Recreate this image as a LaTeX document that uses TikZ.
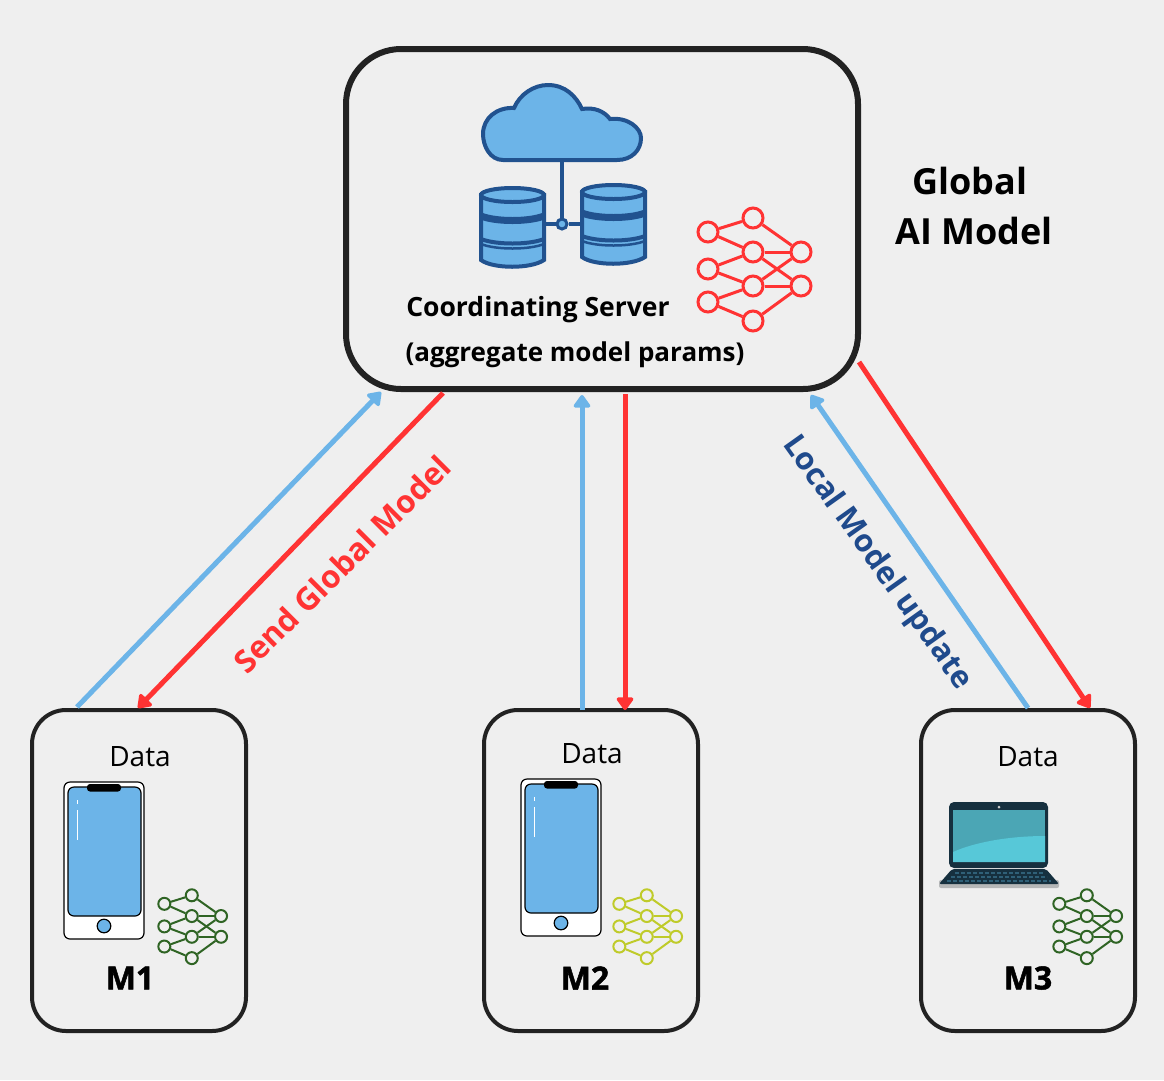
\documentclass[tikz,border=0pt]{standalone}
\usepackage{fontspec}
\setmainfont{Open Sans}
\usepackage{tikz}
\usetikzlibrary{calc,positioning,arrows.meta}
\definecolor{bgrey}{HTML}{EFEFEF}
\definecolor{boxblack}{HTML}{222222}
\definecolor{upblue}{HTML}{6CB4E8}
\definecolor{downred}{HTML}{FF3333}
\definecolor{icondark}{HTML}{21528F}
\definecolor{updatetext}{HTML}{1F4A8C}
\definecolor{netgreen}{HTML}{2F6424}
\definecolor{netyellow}{HTML}{BFCB2A}
\definecolor{lapdark}{HTML}{16303F}
\definecolor{lapscreen}{HTML}{4BA6B5}
\definecolor{lapglow}{HTML}{57C8D8}
\definecolor{lapkey}{HTML}{2F6078}
\definecolor{lapsilver}{HTML}{B5B7B8}
\tikzset{
  serverbox/.style={draw=boxblack,line width=6pt,rounded corners=55pt,minimum width=512pt,minimum height=340pt,outer sep=0pt},
  devbox/.style={draw=boxblack,line width=4pt,rounded corners=34pt,minimum width=214pt,minimum height=321pt,outer sep=0pt},
  uparrow/.style={draw=upblue,line width=5pt,-{Triangle[length=14pt,width=19pt,round]}},
  downarrow/.style={draw=downred,line width=5pt,-{Triangle[length=14pt,width=19pt,round]}},
  boldtext/.style={font=\fontsize{26}{32}\selectfont\bfseries,text=black,inner sep=0pt},
  titletext/.style={font=\fontsize{36}{40}\selectfont\bfseries,text=black,inner sep=0pt},
  datatext/.style={font=\fontsize{28}{32}\selectfont,text=black,inner sep=0pt},
  devlabel/.style={font=\fontsize{32}{38}\selectfont\bfseries\addfontfeature{FakeBold=1.5},text=black,inner sep=0pt},
  iconline/.style={draw=icondark,line width=4pt},
}
% prefix, centre, scale, colour, node size, line width
\newcommand{\neuralnet}[6]{
  \begin{scope}[shift={(#2)},scale=#3]
    \foreach \nname/\nx/\ny in {l1/-47/-38,l2/-47/-1,l3/-47/32,m1/-2/-52,m2/-2/-18,m3/-2/16,m4/-2/51,r1/46/-18,r2/46/16}
      \node[circle,draw=#4,line width=#6,inner sep=0pt,minimum size=#5] (#1\nname) at (\nx,\ny) {};
    \foreach \a/\b in {l1/m1,l1/m2,l2/m2,l2/m3,l3/m3,l3/m4,m1/r1,m2/r1,m2/r2,m3/r1,m3/r2,m4/r2}
      \draw[#4,line width=#6] (#1\a) -- (#1\b);
  \end{scope}
}
% left edge, top
\newcommand{\dbicon}[2]{
  \begin{scope}[shift={(#1,#2)}]
    \draw[iconline,fill=upblue] (0,0) -- (0,65) .. controls (12,74) and (50,74) .. (63,65) -- (63,0) -- cycle;
    \draw[iconline,fill=upblue] (31.5,0) ellipse (31.5 and 7);
    \draw[icondark,line width=7pt] (0,21) .. controls (15,27) and (48,27) .. (63,21);
    \draw[iconline] (0,44) .. controls (15,50) and (48,50) .. (63,44);
    \draw[iconline,line width=2.5pt] (0,49) .. controls (15,55) and (48,55) .. (63,49);
  \end{scope}
}
% left edge, top
\newcommand{\phoneicon}[2]{
  \begin{scope}[shift={(#1,#2)}]
    \draw[black,fill=white,line width=1.2pt,rounded corners=6pt] (0,0) rectangle (80,157);
    \draw[black,fill=upblue,line width=1.2pt,rounded corners=6pt] (4,5) rectangle (77,134);
    \fill[black,rounded corners=3pt] (23,2) rectangle (57,9.5);
    \draw[white,line width=0.8pt] (13,18) -- (13,22) (13,28) -- (13,58);
    \draw[black,fill=upblue,line width=1.2pt] (40,144) circle (6.8);
  \end{scope}
}
\begin{document}
\begin{tikzpicture}[x=1pt,y=-1pt]
\useasboundingbox[fill=bgrey] (0,0) rectangle (1164,1080);

% boxes
\node[serverbox] (server) at (602,219) {};
\node[devbox] (m1) at (139,870.5) {};
\node[devbox] (m2) at (591,870.5) {};
\node[devbox] (m3) at (1028,870.5) {};

% cloud and databases
\coordinate (cloudfoot) at (562,160);
\coordinate (dbleft) at (543,224);
\coordinate (dbright) at (582,224);
\node[circle,draw=icondark,fill=upblue,line width=3pt,inner sep=0pt,minimum size=10pt] (hub) at (562,224) {};
\draw[iconline] (cloudfoot) -- (hub);
\draw[iconline] (dbleft) -- (hub);
\draw[iconline] (hub) -- (dbright);
\draw[iconline,fill=upblue] (503,160)
  .. controls (490,160) and (483,146) .. (483,134)
  .. controls (483,118) and (497,107) .. (514,108)
  .. controls (520,94) and (534,85) .. (548,85)
  .. controls (565,85) and (576,96) .. (582,109)
  .. controls (594,107) and (604,111) .. (610,119)
  .. controls (628,117) and (641,128) .. (641,138)
  .. controls (641,150) and (632,160) .. (617,160) -- cycle;
\dbicon{481}{195}
\dbicon{582}{192}

\neuralnet{srv}{755,270}{1}{downred}{20pt}{3pt}
\neuralnet{aa}{193,927}{0.61}{netgreen}{12pt}{2pt}
\neuralnet{bb}{648,927}{0.61}{netyellow}{12pt}{2pt}
\neuralnet{cc}{1088,927}{0.61}{netgreen}{12pt}{2pt}

% phones
\phoneicon{64}{782}
\phoneicon{521}{779}

% laptop
\fill[lapdark,rounded corners=5pt] (949,802) rectangle (1048,868);
\fill[lapscreen] (953,810) rectangle (1045,862);
\fill[lapglow] (953,852) .. controls (975,842) and (1010,836) .. (1045,836) -- (1045,862) -- (953,862) -- cycle;
\fill[white!80!black] (999,807) circle (1.5);
\fill[lapsilver,rounded corners=2pt] (939,880) rectangle (1059,888);
\fill[lapdark,rounded corners=2pt] (952,869) -- (1046,869) -- (1059,884) -- (939,884) -- cycle;
\foreach \ky/\kx/\kw in {873/955/88,877/951/96,881/947/104}
  \draw[lapkey,line width=1.4pt,dash pattern=on 4pt off 2pt] (\kx,\ky) -- ++(\kw,0);

% arrows
\coordinate (m1up) at (77,707);
\coordinate (srvin1) at (381,392);
\coordinate (srvout1) at (443,393);
\coordinate (m1in) at (138,708);
\coordinate (m2up) at (582,710);
\coordinate (srvin2) at (582,395);
\coordinate (srvout2) at (625,394);
\coordinate (m2in) at (625,710);
\coordinate (m3up) at (1028,708);
\coordinate (srvin3) at (811,395);
\coordinate (srvout3) at (859,362);
\coordinate (m3in) at (1090,708);
\draw[uparrow] (m1up) -- (srvin1);
\draw[downarrow] (srvout1) -- (m1in);
\draw[uparrow] (m2up) -- (srvin2);
\draw[downarrow] (srvout2) -- (m2in);
\draw[uparrow] (m3up) -- (srvin3);
\draw[downarrow] (srvout3) -- (m3in);

% texts
\node[boldtext,font=\fontsize{26.5}{32}\selectfont\bfseries] (srvname) at (538,310) {Coordinating Server};
\node[boldtext] (srvrole) at (575,355) {(aggregate model params)};
\node[titletext] (globalone) at (970,181) {Global};
\node[titletext] (globaltwo) at (974,231) {AI Model};
\node[boldtext,text=downred,rotate=45,font=\fontsize{31.5}{36}\selectfont\bfseries] (sendlbl) at (342,564) {Send Global Model};
\node[boldtext,text=updatetext,rotate=-54.5,font=\fontsize{31}{36}\selectfont\bfseries] (updlbl) at (877,563) {Local Model update};
\node[datatext] (dataone) at (140,757) {Data};
\node[datatext] (datatwo) at (592,754) {Data};
\node[datatext] (datathree) at (1028,757) {Data};
\node[devlabel] (lblone) at (130,978) {M1};
\node[devlabel] (lbltwo) at (585,978) {M2};
\node[devlabel] (lblthree) at (1028,978) {M3};
\end{tikzpicture}
\end{document}
